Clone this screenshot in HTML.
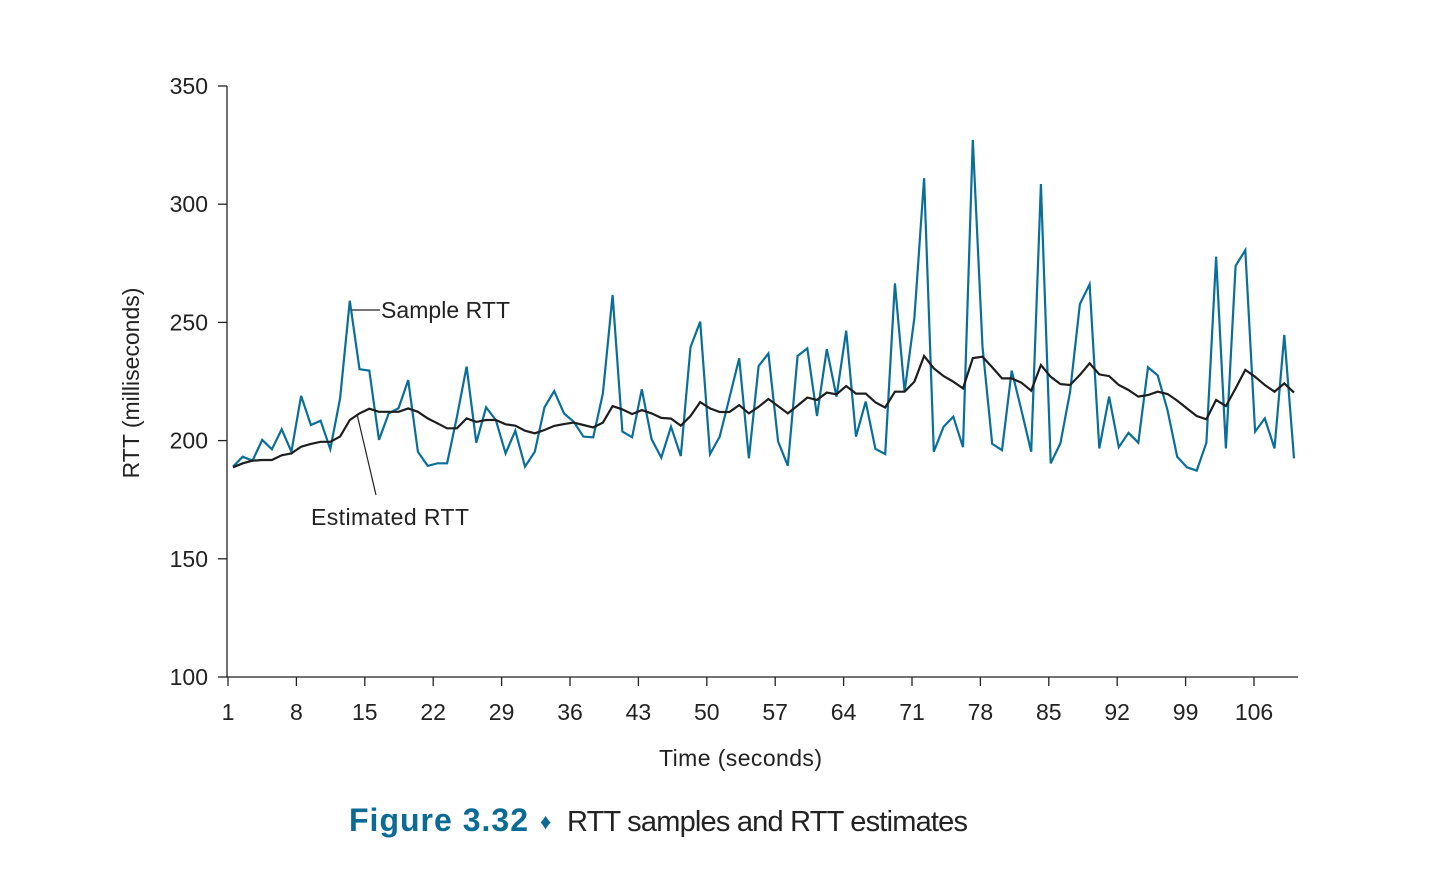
<!DOCTYPE html>
<html><head><meta charset="utf-8"><style>
html,body{margin:0;padding:0;background:#fff;}
svg{display:block;font-family:"Liberation Sans","DejaVu Sans",sans-serif;}
</style></head><body>
<svg id="chart" width="1440" height="874" viewBox="0 0 1440 874" xmlns="http://www.w3.org/2000/svg">
<g id="axes"></g>
<g id="series"></g>
<g>
<line x1="352" y1="310" x2="380" y2="310" stroke="#222" stroke-width="1.2"/>
<text x="381" y="318" font-size="23" fill="#222" textLength="129">Sample RTT</text>
</g>
<g>
<line x1="357" y1="414" x2="376" y2="495" stroke="#222" stroke-width="1.2"/>
<text x="311" y="525" font-size="23" fill="#222" textLength="158">Estimated RTT</text>
</g>
<text x="659" y="766" font-size="23" fill="#222" textLength="163">Time (seconds)</text>
<text transform="translate(139,383) rotate(-90)" font-size="23" fill="#222" text-anchor="middle">RTT (milliseconds)</text>
<text x="349" y="831" font-size="32" fill="#0b6b94" font-weight="bold" textLength="179">Figure 3.32</text>
<text x="540" y="829" font-size="22" fill="#0b6b94">♦</text>
<text x="567" y="831" font-size="29" fill="#222" textLength="401">RTT samples and RTT estimates</text>
</svg>
<script>
const yTicks = [100, 150, 200, 250, 300, 350];
const xTicks = [1, 8, 15, 22, 29, 36, 43, 50, 57, 64, 71, 78, 85, 92, 99, 106];
const sampleRTT = [189,193.2,191.5,200.3,196.3,204.8,195.3,218.9,206.6,208.4,196.4,217.9,259.2,230.2,229.6,200.3,211.5,213.7,225.6,195.3,189.3,190.4,190.4,210,231.3,199.1,214.1,208.7,194.6,204.2,189,195.3,214.1,221,211.5,208,201.7,201.4,220,261.6,203.8,201.4,221.7,200.6,192.8,205.9,193.5,239.5,250.3,194.3,201.7,218,234.8,192.5,231.5,236.9,199.6,189.4,235.8,239,210.4,238.7,218.6,246.5,201.7,216.5,196.5,194.3,266.5,220.7,252,311,195.3,205.9,210.1,197.2,327.2,239.7,198.6,196,229.6,212.9,195.3,308.5,190.4,198.8,220.7,257.8,266.1,196.7,218.6,197.2,203.3,199.1,231,227.6,212.9,193.2,188.7,187.3,199.1,277.8,196.7,273.9,280.6,203.8,209.4,196.7,244.7,192.5];
const estimatedRTT = [188.7,190.4,191.5,191.8,191.8,193.8,194.6,197.4,198.6,199.5,199.5,201.7,208.7,211.5,213.5,212.2,212.2,212.2,213.6,212.2,209.4,207.3,205.2,205.2,209.4,207.9,208.7,208.7,206.9,206.3,204.2,203.1,204.5,206.2,207,207.6,206.6,205.6,207.6,214.6,213.2,211.2,212.9,211.5,209.6,209.3,206.3,210.4,216.3,213.6,212.1,212.1,215,211.5,214.3,217.6,214.6,211.5,214.8,218.2,217.2,220.3,219.6,223.1,219.9,219.9,216.2,214,220.7,220.7,224.9,235.8,230.6,227.3,224.9,222.1,234.9,235.5,231,226.3,226.3,224.5,221.1,232,227,223.9,223.5,227.8,232.7,228,227.3,223.5,221.4,218.6,219.3,220.7,219.7,216.9,213.6,210.4,209,217.2,214.6,222.1,229.9,227,223.5,220.7,224.2,220.3];

const NS = 'http://www.w3.org/2000/svg';
const plot = {x0: 227, x1: 1298, y0: 677, y1: 86};
function yScale(v){ return plot.y0 - (v - 100) / (350 - 100) * (plot.y0 - plot.y1); }
function tScale(t){ return 228 + (t - 1) / (106 - 1) * (1254 - 228); }
function iScale(i, n){ return 233 + i / (n - 1) * (1294 - 233); }
function mk(tag, attrs, parent){
  const e = document.createElementNS(NS, tag);
  for (const k in attrs) e.setAttribute(k, attrs[k]);
  parent.appendChild(e); return e;
}
const axes = document.getElementById('axes');
const yAxis = mk('line', {x1: plot.x0, y1: plot.y1, x2: plot.x0, y2: plot.y0, stroke: '#222', 'stroke-width': 1.3}, axes);


const xAxis = mk('line', {x1: plot.x0, y1: plot.y0, x2: plot.x1, y2: plot.y0, stroke: '#222', 'stroke-width': 1.3}, axes);


yTicks.forEach(v => {
  const y = yScale(v);
  const tk = mk('line', {x1: plot.x0 - 9, y1: y, x2: plot.x0, y2: y, stroke: '#222', 'stroke-width': 1.3}, axes);
  
  
  const t = mk('text', {x: 208, y: y + 8, 'font-size': 23, fill: '#222', 'text-anchor': 'end'}, axes);
  t.textContent = v;
  
  
});
xTicks.forEach(v => {
  const x = tScale(v);
  const tk = mk('line', {x1: x, y1: plot.y0, x2: x, y2: plot.y0 + 9, stroke: '#222', 'stroke-width': 1.3}, axes);
  
  
  const t = mk('text', {x: x, y: 720, 'font-size': 23, fill: '#222', 'text-anchor': 'middle'}, axes);
  t.textContent = v;
  
  
});
const series = document.getElementById('series');
function pts(arr){ return arr.map((v, i) => iScale(i, arr.length).toFixed(1) + ',' + yScale(v).toFixed(1)).join(' '); }
const s1 = mk('polyline', {points: pts(sampleRTT), fill: 'none', stroke: '#0a6f98', 'stroke-width': 2.2, 'stroke-linejoin': 'miter'}, series);


const s2 = mk('polyline', {points: pts(estimatedRTT), fill: 'none', stroke: '#1e1e1e', 'stroke-width': 2.2}, series);


</script>
</body></html>
